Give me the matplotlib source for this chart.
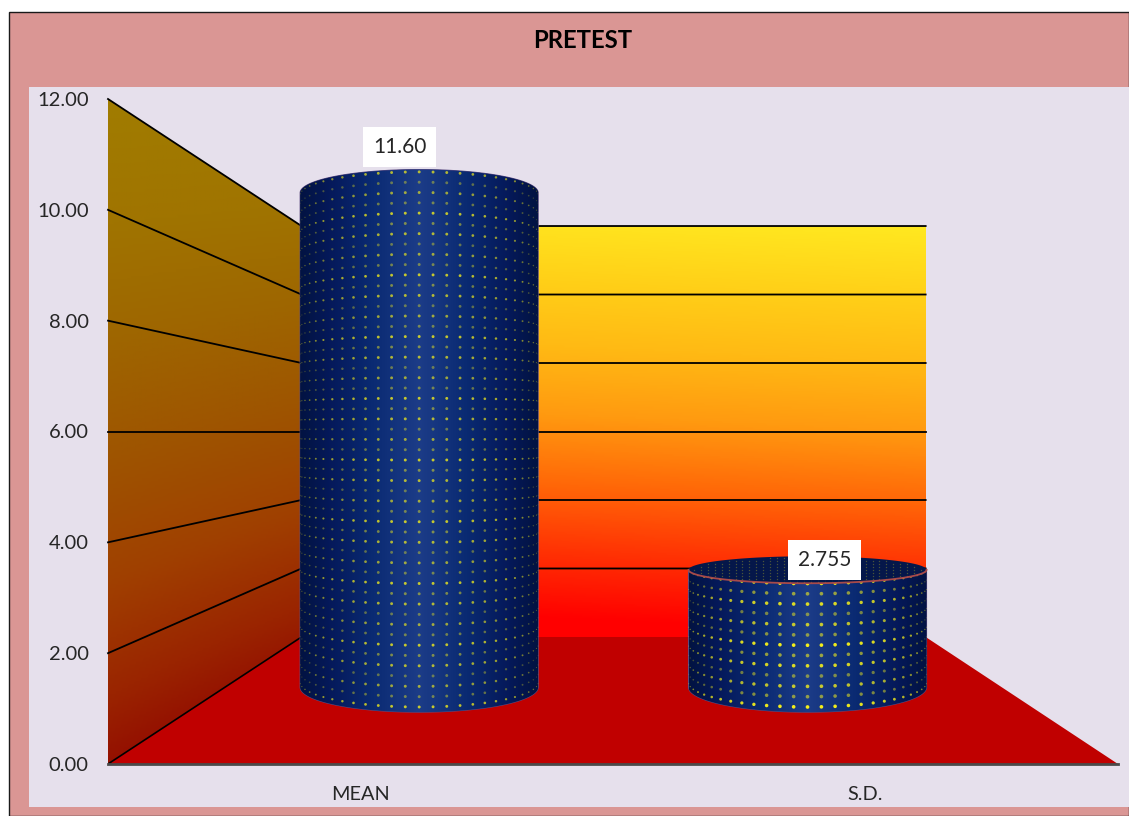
import numpy as np
import matplotlib
matplotlib.use('Agg')
import matplotlib.pyplot as plt
from matplotlib.colors import LinearSegmentedColormap
from matplotlib.patches import Polygon, Rectangle

plt.rcParams['font.family'] = ['Lato', 'DejaVu Sans']

W, H = 1129, 816

title = 'PRETEST'
categories = ['MEAN', 'S.D.']
values = [11.60, 2.755]
value_labels = ['11.60', '2.755']
y_ticks = [0, 2, 4, 6, 8, 10, 12]

# fake 3d: everything shrinks toward this point in data coords
VX, VV = 1.003, 6.0
S_BACK = 0.618
S_BAR = 0.769
BAR_R = 0.3064
BAR_DS = 0.075


def proj(x, v, s):
    return VX + (x - VX) * s, VV + (v - VV) * s


def px_axes(fig, l, t, r, b):
    return fig.add_axes([l / W, 1 - b / H, (r - l) / W, (b - t) / H])


def surface(xc, v, theta):
    # point on the front of the cylinder, theta=0 faces the viewer
    x = VX + (xc - VX) * S_BAR + BAR_R * S_BAR * np.sin(theta)
    y = VV + (v - VV) * (S_BAR + BAR_DS * np.cos(theta))
    return x, y


fig = plt.figure(figsize=(W / 100, H / 100), dpi=100, facecolor='white')
fig.add_artist(Rectangle((9 / W, 0), 1 - 9 / W, 1 - 12 / H, transform=fig.transFigure,
                         fc='#da9694', ec='#1a1a1a', lw=1, zorder=-2))
fig.add_artist(Rectangle((29 / W, 1 - 807 / H), 1100 / W, 720 / H, transform=fig.transFigure,
                         fc='#e6e0ec', ec='none', zorder=-1))
fig.text(583 / W, 1 - 41 / H, title, fontsize=17.2, fontweight='bold', color='black',
         ha='center', va='center')

ax = px_axes(fig, 108, 99, 1118, 764)
ax.patch.set_alpha(0)

# walls and floor
stops = [(0.0, '#ff0000'), (0.17, '#ff3404'), (0.33, '#ff6808'), (0.5, '#ff9a10'),
         (0.67, '#ffba14'), (0.83, '#ffd018'), (1.0, '#ffe820')]
wall_cmap = LinearSegmentedColormap.from_list('wall', stops)
side_stops = [(0.0, '#900000'), (0.17, '#9a2400'), (0.33, '#a04000'), (0.5, '#9e5400'),
              (0.67, '#9e6600'), (0.83, '#a07400'), (1.0, '#a07c00')]
side_cmap = LinearSegmentedColormap.from_list('side', side_stops)

bx0, bv0 = proj(0, 0, S_BACK)
bx1, bv1 = proj(2, 12, S_BACK)

gx, gy = np.meshgrid(np.linspace(0, 1, 200), np.linspace(1, 0, 200))
back = ax.imshow(np.clip(gy + 0.07 * (gx - 1), 0, 1), cmap=wall_cmap, vmin=0, vmax=1,
                 extent=(bx0, bx1, bv0, bv1), aspect='auto', zorder=1)
side = ax.imshow(np.clip(gy + 0.16 * (0.5 - gx) * (1 - gy), 0, 1), cmap=side_cmap, vmin=0, vmax=1,
                 extent=(0, bx0, 0, 12), aspect='auto', zorder=1)
side_poly = Polygon([(0, 0), (bx0, bv0), (bx0, bv1), (0, 12)], transform=ax.transData,
                    fc='none', ec='none')
ax.add_patch(side_poly)
side.set_clip_path(side_poly)
ax.add_patch(Polygon([(0, 0), (2, 0), (bx1, bv0), (bx0, bv0)], fc='#c00000', ec='none', zorder=1.5))

# gridlines run along the side wall then across the back
for t in y_ticks:
    bxl, bvv = proj(0, t, S_BACK)
    bxr, _ = proj(2, t, S_BACK)
    if t > 0:
        ax.plot([0, bxl, bxr], [t, bvv, bvv], color='black', lw=1.3, zorder=2,
                solid_joinstyle='miter', clip_on=False)
    else:
        ax.plot([0, bxl], [t, bvv], color='black', lw=1.2, zorder=2)

# cylinders
body_cmap = LinearSegmentedColormap.from_list(
    'body', [(0, '#021342'), (0.12, '#05195a'), (0.3, '#0a2a72'), (0.42, '#15357f'), (0.5, '#1c3c88'),
             (0.58, '#15357f'), (0.7, '#0a2a72'), (0.88, '#05195a'), (1, '#021342')])
xc_list = [0.5, 1.5]
dot_size = [4.0, 6.5]
dot_alpha = [0.8, 1.0]
row_fade = [1.0, 0.55, 0.8, 0.5, 0.9, 0.6]
DTHETA = np.radians(6.7)
ROW_STEP = 0.22
theta = np.linspace(-np.pi / 2, np.pi / 2, 121)
grad = np.linspace(0, 1, 300).reshape(1, -1)

for i, (xc, val, lab) in enumerate(zip(xc_list, values, value_labels)):
    xb, yb = surface(xc, 0, theta)
    xt, yt = surface(xc, val, theta)
    outline = np.r_[np.c_[xb, yb], np.c_[xt, yt][::-1]]
    poly = Polygon(outline, fc='#0a2560', ec='#5a4a80', lw=0.8, zorder=3)
    ax.add_patch(poly)
    im = ax.imshow(grad, cmap=body_cmap, vmin=0, vmax=1,
                   extent=(xb.min(), xb.max(), 0, 12), aspect='auto', zorder=3.1)
    im.set_clip_path(poly)

    # open top on the short one, seen from above
    if val < VV:
        top_th = np.linspace(0, 2 * np.pi, 181)
        xe, ye = surface(xc, val, top_th)
        ax.add_patch(Polygon(np.c_[xe, ye], fc='#05174a', ec='none', zorder=3.4))
        fx, fy = surface(xc, val, np.linspace(-np.pi / 2, np.pi / 2, 91))
        ax.plot(fx, fy, color='#a84a4a', lw=1.3, zorder=3.6)
        # speckle on the inside of the top
        cy, cx = np.meshgrid(np.linspace(-0.9, 0.9, 9), np.linspace(-0.95, 0.95, 34))
        keep = cx ** 2 + cy ** 2 < 0.92
        ex = VX + (xc - VX) * S_BAR + BAR_R * S_BAR * cx[keep]
        ey = VV + (val - VV) * (S_BAR + BAR_DS * cy[keep])
        ax.scatter(ex, ey, s=1.0, color='#c8c820', alpha=0.35, linewidths=0, zorder=3.5)

    # yellow dot texture, dots fade toward the sides
    rows = np.arange(ROW_STEP / 2, val, ROW_STEP)
    tx, ty, ts, ta = [], [], [], []
    for r, v in enumerate(rows):
        th = np.arange(-13, 14) * DTHETA
        th = th[np.abs(th) < np.pi / 2 - 0.02]
        dx, dy = surface(xc, v, th)
        tx.extend(dx)
        ty.extend(dy)
        ts.extend(dot_size[i] * np.cos(th) ** 1.5 + 0.5)
        ta.extend(dot_alpha[i] * row_fade[r % len(row_fade)] * (0.35 + 0.65 * np.cos(th)))
    rgba = np.zeros((len(tx), 4))
    rgba[:, :3] = (0.96, 0.94, 0.1)
    rgba[:, 3] = ta
    ax.scatter(tx, ty, s=ts, c=rgba, linewidths=0, zorder=3.2)

    top_x, top_y = proj(xc, val, S_BAR)
    off = (-14, 33) if val > VV else (12, 7)
    ax.annotate(lab, (top_x, top_y), xytext=off, textcoords='offset points', ha='center', va='center',
                fontsize=15, color='#262626', zorder=5,
                bbox=dict(boxstyle='square,pad=0.48', fc='white', ec='none'))

ax.set_xlim(0, 2)
ax.set_ylim(0, 12)
ax.set_xticks(xc_list)
ax.set_xticklabels(categories, fontsize=14.3, color='#262626')
ax.set_yticks(y_ticks)
ax.set_yticklabels(['%.2f' % t for t in y_ticks], fontsize=14.5, color='#262626')
ax.tick_params(axis='both', length=0)
ax.tick_params(axis='x', pad=15.5)
ax.tick_params(axis='y', pad=14)
for name in ['top', 'right', 'left']:
    ax.spines[name].set_visible(False)
ax.spines['bottom'].set_color('#4a4a4a')
ax.spines['bottom'].set_linewidth(2)
ax.spines['bottom'].set_zorder(4)

fig.savefig('out.png', dpi=100)
